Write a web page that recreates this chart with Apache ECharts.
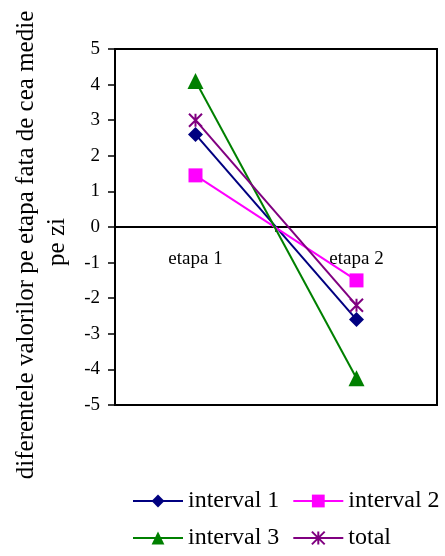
<!DOCTYPE html>
<html>
<head>
<meta charset="utf-8">
<script src="https://cdn.jsdelivr.net/npm/echarts@6/dist/echarts.min.js"></script>
<style>
html,body{margin:0;padding:0;background:#fff;}
#chart{width:445px;height:556px;}
</style>
</head>
<body>
<div id="chart"></div>
<script>
var categories = ['etapa 1', 'etapa 2'];
var interval1 = [2.6, -2.6];
var interval2 = [1.45, -1.5];
var interval3 = [4.1, -4.25];
var total = [3.0, -2.2];
var seriesNames = ['interval 1', 'interval 2', 'interval 3', 'total'];
var yTitle1 = 'diferentele valorilor pe etapa fata de cea medie';
var yTitle2 = 'pe zi';

var FONT = '"Liberation Serif", "Times New Roman", serif';
var asterisk = 'path://M0,0L10,10M10,0L0,10M5,0L5,10';

function mk(name, data, color, symbol, size) {
  return {
    name: name, type: 'line', data: data, xAxisIndex: 0,
    symbol: symbol, symbolSize: size,
    lineStyle: { color: color, width: 2 },
    itemStyle: symbol === asterisk ? { color: 'none', borderColor: color, borderWidth: 2 } : { color: color },
    emphasis: { disabled: true },
    animation: false
  };
}

var chart = echarts.init(document.getElementById('chart'));
chart.setOption({
  backgroundColor: '#fff',
  animation: false,
  grid: { left: 115, right: 8, top: 49, bottom: 151, show: true, borderColor: '#000', borderWidth: 2, backgroundColor: 'transparent' },
  xAxis: [{
    type: 'category', data: categories, boundaryGap: true,
    axisLine: { onZero: true, lineStyle: { color: '#000', width: 2 } },
    axisTick: { show: true, length: 5, lineStyle: { color: '#000', width: 1.5 } },
    axisLabel: { show: false },
    splitLine: { show: false }
  }, {
    type: 'category', data: categories, boundaryGap: true, position: 'bottom', offset: -178,
    axisLine: { show: false, onZero: false },
    axisTick: { show: false },
    axisLabel: { color: '#000', fontFamily: FONT, fontSize: 19, margin: 23 },
    splitLine: { show: false }
  }],
  yAxis: {
    type: 'value', min: -5, max: 5, interval: 1,
    axisLine: { show: true, lineStyle: { color: '#000', width: 2 } },
    axisTick: { show: true, length: 7, lineStyle: { color: '#000', width: 1.5 } },
    axisLabel: { color: '#000', fontFamily: FONT, fontSize: 19, margin: 15 },
    splitLine: { show: false }
  },
  legend: {
    data: seriesNames, left: 127, top: 484, width: 325,
    itemWidth: 50, itemHeight: 16, itemGap: 13,
    textStyle: { color: '#000', fontFamily: FONT, fontSize: 24, lineHeight: 24 }
  },
  graphic: [
    { type: 'text', x: 26, y: 245, rotation: Math.PI / 2,
      style: { text: yTitle1, fill: '#000', font: '25px ' + FONT, textAlign: 'center', textVerticalAlign: 'middle' } },
    { type: 'text', x: 57, y: 242, rotation: Math.PI / 2,
      style: { text: yTitle2, fill: '#000', font: '25px ' + FONT, textAlign: 'center', textVerticalAlign: 'middle' } }
  ],
  series: [
    mk(seriesNames[0], interval1, '#000080', 'diamond', 15),
    mk(seriesNames[1], interval2, '#FF00FF', 'rect', 14),
    mk(seriesNames[2], interval3, '#008000', 'triangle', 16),
    mk(seriesNames[3], total, '#800080', asterisk, 13)
  ]
});
</script>
</body>
</html>
